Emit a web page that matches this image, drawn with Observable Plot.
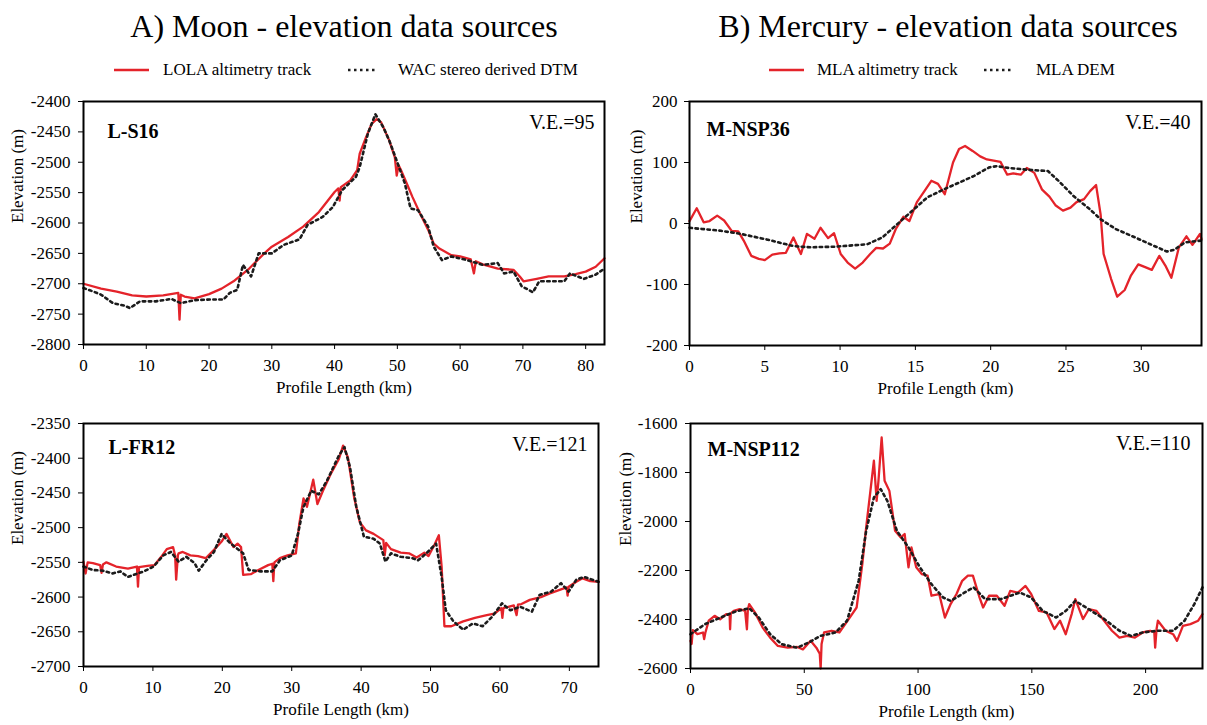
<!DOCTYPE html>
<html>
<head>
<meta charset="utf-8">
<script src="https://cdn.jsdelivr.net/npm/d3@7"></script>
<script src="https://cdn.jsdelivr.net/npm/@observablehq/plot@0.6"></script>
<style>
  html, body { margin: 0; padding: 0; background: #fff; }
  #fig { position: relative; width: 1207px; height: 725px; overflow: hidden; font-family: "Liberation Serif", "Times New Roman", serif; color: #000; }
  #fig svg, #fig svg text { font-family: "Liberation Serif", "Times New Roman", serif !important; }
  .title { position: absolute; font-size: 32px; white-space: nowrap; transform: translateX(-50%); line-height: 1; }
  .legtext { position: absolute; font-size: 17px; white-space: nowrap; line-height: 1; }
  .panel { position: absolute; }
  svg.swatch { position: absolute; overflow: visible; }
</style>
</head>
<body>
<div id="fig"></div>
<script>
// ---------- text ----------
const titles = ["A) Moon - elevation data sources", "B) Mercury - elevation data sources"];
const moonSeries = ["LOLA altimetry track", "WAC stereo derived DTM"];
const mercurySeries = ["MLA altimetry track", "MLA DEM"];
const panelNames = ["L-S16", "M-NSP36", "L-FR12", "M-NSP112"];
const veLabels = ["V.E.=95", "V.E.=40", "V.E.=121", "V.E.=110"];
const xLabel = "Profile Length (km)";
const yLabel = "Elevation (m)";

// ---------- ticks ----------
const ticksX_S16 = [0, 10, 20, 30, 40, 50, 60, 70, 80];
const ticksY_S16 = [-2800, -2750, -2700, -2650, -2600, -2550, -2500, -2450, -2400];
const ticksX_NSP36 = [0, 5, 10, 15, 20, 25, 30];
const ticksY_NSP36 = [-200, -100, 0, 100, 200];
const ticksX_FR12 = [0, 10, 20, 30, 40, 50, 60, 70];
const ticksY_FR12 = [-2700, -2650, -2600, -2550, -2500, -2450, -2400, -2350];
const ticksX_NSP112 = [0, 50, 100, 150, 200];
const ticksY_NSP112 = [-2600, -2400, -2200, -2000, -1800, -1600];

// ---------- data: [profile km, elevation m] ----------
const s16_lola = [[0,-2700],[2.8,-2708],[5.3,-2713],[7.75,-2719],[10,-2721],[12.7,-2719],[15.1,-2715],[15.3,-2759],[15.5,-2718],[16.1,-2721],[17.7,-2724],[20,-2717],[22,-2708],[23.9,-2696],[26.4,-2675],[28.8,-2650],[30,-2639],[32.6,-2623],[35,-2606],[37.5,-2582],[40,-2549],[40.6,-2543],[40.8,-2563],[41,-2541],[42.5,-2530],[43.6,-2513],[44,-2486],[45,-2459],[45.9,-2437],[46.7,-2429],[47.4,-2434],[48.7,-2464],[49.6,-2492],[49.9,-2522],[50.2,-2505],[50.5,-2511],[51.5,-2535],[52.4,-2557],[53.6,-2584],[54.9,-2611],[55.8,-2634],[56.7,-2642],[58.6,-2653],[60,-2655],[61.7,-2660],[62.2,-2683],[62.5,-2663],[63.6,-2668],[66,-2675],[68.5,-2677],[69.5,-2688],[70.1,-2696],[72.2,-2692],[74.1,-2688],[76.6,-2688],[78.4,-2684],[80,-2680],[81.6,-2672],[83,-2658]];
const s16_wac = [[0,-2707],[1.6,-2713],[2.8,-2718],[4.7,-2732],[6.5,-2736],[7.4,-2740],[9,-2729],[11.5,-2729],[14,-2725],[15.5,-2732],[17.7,-2727],[20.2,-2726],[22.3,-2726],[23.3,-2715],[24.5,-2710],[25.4,-2669],[26.7,-2688],[27.9,-2650],[30,-2650],[31.9,-2636],[34.4,-2627],[35.7,-2603],[38.1,-2590],[39.7,-2574],[41.2,-2546],[43.4,-2524],[44,-2508],[45.3,-2453],[46.5,-2421],[47.8,-2443],[48.7,-2464],[49.6,-2489],[51.2,-2535],[52.1,-2576],[53.3,-2579],[54.9,-2606],[55.8,-2639],[57.1,-2661],[58.6,-2655],[61.1,-2661],[63.6,-2669],[66,-2666],[67,-2683],[68.5,-2680],[69.8,-2704],[71.6,-2714],[72.6,-2696],[74.7,-2696],[76.6,-2696],[77.5,-2683],[79.7,-2692],[81.6,-2685],[83,-2675]];

const nsp36_mla = [[0,4],[0.48,25],[0.94,2],[1.33,4],[1.84,13],[2.3,5],[2.8,-12],[3.24,-13],[3.6,-28],[4.1,-53],[4.6,-58],[5.0,-60],[5.5,-51],[5.97,-49],[6.4,-48],[6.9,-23],[7.4,-50],[7.8,-17],[8.3,-25],[8.7,-7],[9.2,-24],[9.6,-16],[10.04,-50],[10.5,-64],[11.0,-74],[11.5,-64],[12.0,-50],[12.4,-40],[12.85,-41],[13.3,-33],[13.7,-9],[14.2,11],[14.6,4],[15.1,35],[15.6,53],[16.06,70],[16.5,65],[16.95,48],[17.5,100],[17.9,122],[18.3,127],[18.8,119],[19.3,110],[19.75,105],[20.2,103],[20.65,101],[21.1,80],[21.5,82],[22.0,80],[22.4,91],[22.9,83],[23.4,56],[23.9,44],[24.3,30],[24.8,21],[25.3,26],[25.7,35],[26.2,40],[26.6,53],[27.0,63],[27.3,15],[27.5,-50],[28.0,-91],[28.4,-120],[28.9,-109],[29.3,-86],[29.8,-67],[30.3,-72],[30.7,-76],[31.2,-53],[31.6,-69],[32.0,-89],[32.5,-39],[33.0,-21],[33.4,-35],[33.9,-17],[34.0,-26]];
const nsp36_dem = [[0,-7],[2.1,-12],[3.4,-17],[5.1,-26],[6.9,-37],[8.0,-39],[9.7,-38],[11.8,-34],[12.8,-23],[13.8,-1],[14.8,21],[15.8,43],[16.9,56],[17.9,67],[18.9,78],[19.9,92],[20.4,94],[21.2,91],[22.5,88],[23.8,86],[24.5,70],[25.5,45],[26.6,23],[27.3,7],[28.3,-9],[29.6,-23],[30.6,-34],[31.7,-46],[32.2,-43],[32.9,-31],[34.0,-28]];

const fr12_lola = [[0,-2549],[0.3,-2566],[0.6,-2550],[1.35,-2551],[2.4,-2554],[2.6,-2565],[2.8,-2553],[3.3,-2550],[4.7,-2556],[6.4,-2559],[7.7,-2556],[7.85,-2585],[8.0,-2557],[9.2,-2555],[10.2,-2554],[11.2,-2542],[12.0,-2531],[12.9,-2528],[13.2,-2540],[13.35,-2575],[13.6,-2540],[13.7,-2537],[14.3,-2535],[15.4,-2540],[16.5,-2541],[17.6,-2544],[18.8,-2532],[19.9,-2520],[20.6,-2509],[21.6,-2528],[22.2,-2523],[22.7,-2528],[23.0,-2568],[24.1,-2567],[25.2,-2561],[26.6,-2554],[27.2,-2552],[27.35,-2577],[27.5,-2550],[28.3,-2544],[29.4,-2540],[30.6,-2537],[31.1,-2494],[31.7,-2458],[32.2,-2470],[33.1,-2431],[33.7,-2466],[34.5,-2447],[35.6,-2423],[36.8,-2401],[37.4,-2382],[38.1,-2399],[39.0,-2457],[39.8,-2492],[40.7,-2504],[41.8,-2509],[43.2,-2518],[43.4,-2540],[43.6,-2522],[44.3,-2531],[45.7,-2536],[46.9,-2537],[48.0,-2543],[49.1,-2536],[49.7,-2541],[50.6,-2524],[51.2,-2511],[51.6,-2556],[52.0,-2642],[53.0,-2642],[54.7,-2635],[56.4,-2630],[58.1,-2626],[59.2,-2624],[60.2,-2616],[60.35,-2630],[60.5,-2616],[62.0,-2612],[62.4,-2626],[62.6,-2611],[63.1,-2610],[64.3,-2604],[65.9,-2600],[67.1,-2595],[68.8,-2589],[69.6,-2586],[69.75,-2598],[69.9,-2585],[71.0,-2578],[71.9,-2573],[73.0,-2577],[74.2,-2578]];
const fr12_wac = [[0,-2556],[1.35,-2561],[2.8,-2562],[4.2,-2566],[5.3,-2563],[6.4,-2571],[7.5,-2567],[8.7,-2563],[10.1,-2556],[11.5,-2540],[12.6,-2535],[13.7,-2549],[14.8,-2542],[16.0,-2551],[16.6,-2562],[17.7,-2547],[18.8,-2535],[19.9,-2509],[21.0,-2521],[22.1,-2530],[23.0,-2537],[23.8,-2561],[25.5,-2563],[27.2,-2563],[28.3,-2547],[30.0,-2540],[30.9,-2509],[31.7,-2470],[32.8,-2447],[33.9,-2452],[35.1,-2432],[36.8,-2396],[37.6,-2384],[38.4,-2413],[39.3,-2470],[40.4,-2513],[41.8,-2516],[42.7,-2523],[43.5,-2549],[44.3,-2537],[45.7,-2542],[47.4,-2544],[48.2,-2547],[49.4,-2537],[50.8,-2523],[51.6,-2571],[52.2,-2619],[53.3,-2635],[54.7,-2647],[56.1,-2638],[57.5,-2642],[58.9,-2628],[60.3,-2609],[61.5,-2619],[62.9,-2614],[64.6,-2621],[65.7,-2597],[67.4,-2592],[68.8,-2580],[69.9,-2592],[71.0,-2575],[72.1,-2571],[74.2,-2578]];

const nsp112_mla = [[0,-2487],[0.5,-2500],[1,-2443],[3,-2460],[5.5,-2453],[6,-2480],[6.5,-2455],[8,-2405],[10.6,-2385],[13,-2399],[15.7,-2378],[17.2,-2380],[17.4,-2440],[17.7,-2375],[19,-2365],[21.6,-2358],[24,-2365],[24.8,-2440],[25.2,-2360],[25.8,-2337],[28.3,-2371],[31.7,-2433],[35,-2474],[38.4,-2508],[42.7,-2515],[46.9,-2512],[49.4,-2522],[52.8,-2487],[55.3,-2515],[56.8,-2540],[57.2,-2600],[57.6,-2500],[58.7,-2453],[62,-2446],[65.4,-2453],[68,-2419],[70.5,-2385],[73,-2351],[75.5,-2174],[77.2,-2024],[78.9,-1888],[80.6,-1752],[81.8,-1916],[82.6,-1834],[84,-1657],[85.3,-1834],[87.4,-1875],[89.9,-2038],[92.4,-2065],[94.1,-2051],[95.8,-2187],[97.1,-2106],[99.2,-2187],[101.7,-2215],[104.2,-2221],[105.9,-2303],[109.3,-2296],[111.8,-2392],[114.3,-2337],[116.9,-2296],[119.4,-2242],[121.9,-2221],[124.1,-2221],[127,-2310],[128.6,-2351],[131.2,-2303],[134.6,-2303],[138,-2344],[140.5,-2283],[143.9,-2290],[147.2,-2263],[149.7,-2296],[153.1,-2365],[156.5,-2371],[159.9,-2439],[162.4,-2405],[164.9,-2460],[167.5,-2378],[169.1,-2317],[172.5,-2398],[175,-2358],[178.4,-2365],[181.8,-2405],[185.2,-2446],[188.5,-2474],[191.9,-2467],[195.3,-2474],[198.7,-2453],[202,-2446],[203.8,-2450],[204.2,-2515],[204.8,-2440],[205.4,-2405],[208.8,-2446],[212.1,-2460],[213.8,-2487],[216.4,-2426],[219.7,-2419],[223.1,-2405],[225,-2378]];
const nsp112_dem = [[0,-2460],[6.4,-2419],[13.2,-2392],[19.9,-2367],[25.8,-2354],[30,-2392],[35,-2460],[40.1,-2501],[46.9,-2515],[51.9,-2494],[57,-2467],[63.7,-2453],[68.8,-2405],[73.9,-2242],[77.2,-2038],[80.6,-1902],[83.6,-1868],[86.5,-1916],[90.7,-2038],[95.8,-2106],[100.8,-2187],[105.9,-2256],[111,-2310],[114.3,-2324],[119.4,-2296],[124.4,-2269],[129.5,-2317],[136.3,-2317],[144.7,-2290],[149.7,-2310],[154.8,-2365],[160.7,-2392],[164.9,-2365],[169.1,-2324],[175,-2358],[181.8,-2398],[188.5,-2446],[193.6,-2467],[198.7,-2453],[205.4,-2446],[212.1,-2446],[217.1,-2405],[221.4,-2337],[225,-2269]];

// ---------- styling ----------
const RED = "#e4232a";
const DOT = "#1c1c1c";
const FONT = "Liberation Serif, Times New Roman, serif";

const fig = document.getElementById("fig");

function addTitle(text, cx, top) {
  const d = document.createElement("div");
  d.className = "title";
  d.textContent = text;
  d.style.left = cx + "px";
  d.style.top = top + "px";
  fig.appendChild(d);
}
addTitle(titles[0], 344, 10);
addTitle(titles[1], 948, 10);

function addLegendItem(text, x0, x1, y, textX, dotted) {
  const ns = "http://www.w3.org/2000/svg";
  const s = document.createElementNS(ns, "svg");
  s.setAttribute("class", "swatch");
  s.setAttribute("width", x1 - x0);
  s.setAttribute("height", 6);
  s.style.left = x0 + "px";
  s.style.top = (y - 3) + "px";
  const l = document.createElementNS(ns, "line");
  l.setAttribute("x1", 0); l.setAttribute("x2", x1 - x0);
  l.setAttribute("y1", 3); l.setAttribute("y2", 3);
  l.setAttribute("stroke", dotted ? DOT : RED);
  l.setAttribute("stroke-width", 2.5);
  if (dotted) l.setAttribute("stroke-dasharray", "2.5,3.5");
  s.appendChild(l);
  fig.appendChild(s);
  const t = document.createElement("div");
  t.className = "legtext";
  t.textContent = text;
  t.style.left = textX + "px";
  t.style.top = (y - 9) + "px";
  fig.appendChild(t);
}
addLegendItem(moonSeries[0], 114, 149, 70, 163, false);
addLegendItem(moonSeries[1], 348, 378, 70, 398, true);
addLegendItem(mercurySeries[0], 769, 804, 70, 817, false);
addLegendItem(mercurySeries[1], 984, 1012, 70, 1036, true);

function panel(opt) {
  const toObj = a => a.map(([x, y]) => ({x, y}));
  const p = Plot.plot({
    width: opt.width, height: opt.height,
    marginLeft: opt.ml, marginRight: opt.mr, marginTop: opt.mt, marginBottom: opt.mb,
    style: {background: "transparent", overflow: "visible"},
    x: {domain: opt.xd},
    y: {domain: opt.yd},
    marks: [
      Plot.line(toObj(opt.red), {x: "x", y: "y", stroke: RED, strokeWidth: 2.3}),
      Plot.line(toObj(opt.dot), {x: "x", y: "y", stroke: DOT, strokeWidth: 2.6, strokeDasharray: "2.5,3.5"}),
      Plot.frame({stroke: "#000", strokeWidth: 2}),
      Plot.axisX({ticks: opt.xt, tickFormat: d => String(d), tickSize: 5, tickPadding: 9, label: null, fontSize: 17, fontFamily: FONT, fill: "#000"}),
      Plot.axisY({ticks: opt.yt, tickFormat: d => String(d), tickSize: 5, tickPadding: opt.ytp, label: null, fontSize: 17, fontFamily: FONT, fill: "#000"}),
      Plot.text([xLabel], {frameAnchor: "bottom", dy: 48, lineAnchor: "bottom", fontSize: 17, fontFamily: FONT, text: d => d}),
      Plot.text([yLabel], {frameAnchor: "left", dx: opt.ylx, rotate: -90, lineAnchor: "middle", fontSize: 17, fontFamily: FONT, text: d => d}),
      Plot.text([opt.name], {frameAnchor: "top-left", dx: opt.nx, dy: opt.ny, lineAnchor: "bottom", textAnchor: "start", fontSize: 20, fontWeight: "bold", fontFamily: FONT, text: d => d}),
      Plot.text([opt.ve], {frameAnchor: "top-right", dx: opt.vx, dy: opt.vy, lineAnchor: "bottom", textAnchor: "end", fontSize: 20, fontFamily: FONT, text: d => d})
    ]
  });
  p.setAttribute("font-family", FONT);
  const wrap = document.createElement("div");
  wrap.className = "panel";
  wrap.style.left = opt.left + "px";
  wrap.style.top = opt.top + "px";
  wrap.appendChild(p);
  fig.appendChild(wrap);
  return p;
}

panel({left: 0, top: 88, width: 610, height: 320, ml: 83, mr: 6, mt: 13, mb: 64,
  xd: [0, 83], yd: [-2800, -2400], xt: ticksX_S16, yt: ticksY_S16, ytp: 8, ylx: -66,
  red: s16_lola, dot: s16_wac, name: panelNames[0], ve: veLabels[0], nx: 24, ny: 36, vx: -10, vy: 27});
panel({left: 605, top: 88, width: 602, height: 320, ml: 84, mr: 6, mt: 13, mb: 63,
  xd: [0, 34], yd: [-200, 200], xt: ticksX_NSP36, yt: ticksY_NSP36, ytp: 7, ylx: -53,
  red: nsp36_mla, dot: nsp36_dem, name: panelNames[1], ve: veLabels[1], nx: 17, ny: 34, vx: -11, vy: 27});
panel({left: 0, top: 410, width: 610, height: 315, ml: 83, mr: 12, mt: 13, mb: 59,
  xd: [0, 74.2], yd: [-2700, -2350], xt: ticksX_FR12, yt: ticksY_FR12, ytp: 8, ylx: -66,
  red: fr12_lola, dot: fr12_wac, name: panelNames[2], ve: veLabels[2], nx: 25, ny: 30, vx: -11, vy: 27});
panel({left: 605, top: 410, width: 602, height: 315, ml: 85, mr: 5, mt: 13, mb: 57,
  xd: [0, 225], yd: [-2600, -1600], xt: ticksX_NSP112, yt: ticksY_NSP112, ytp: 8, ylx: -65,
  red: nsp112_mla, dot: nsp112_dem, name: panelNames[3], ve: veLabels[3], nx: 17, ny: 32, vx: -12, vy: 26});
</script>
</body>
</html>
